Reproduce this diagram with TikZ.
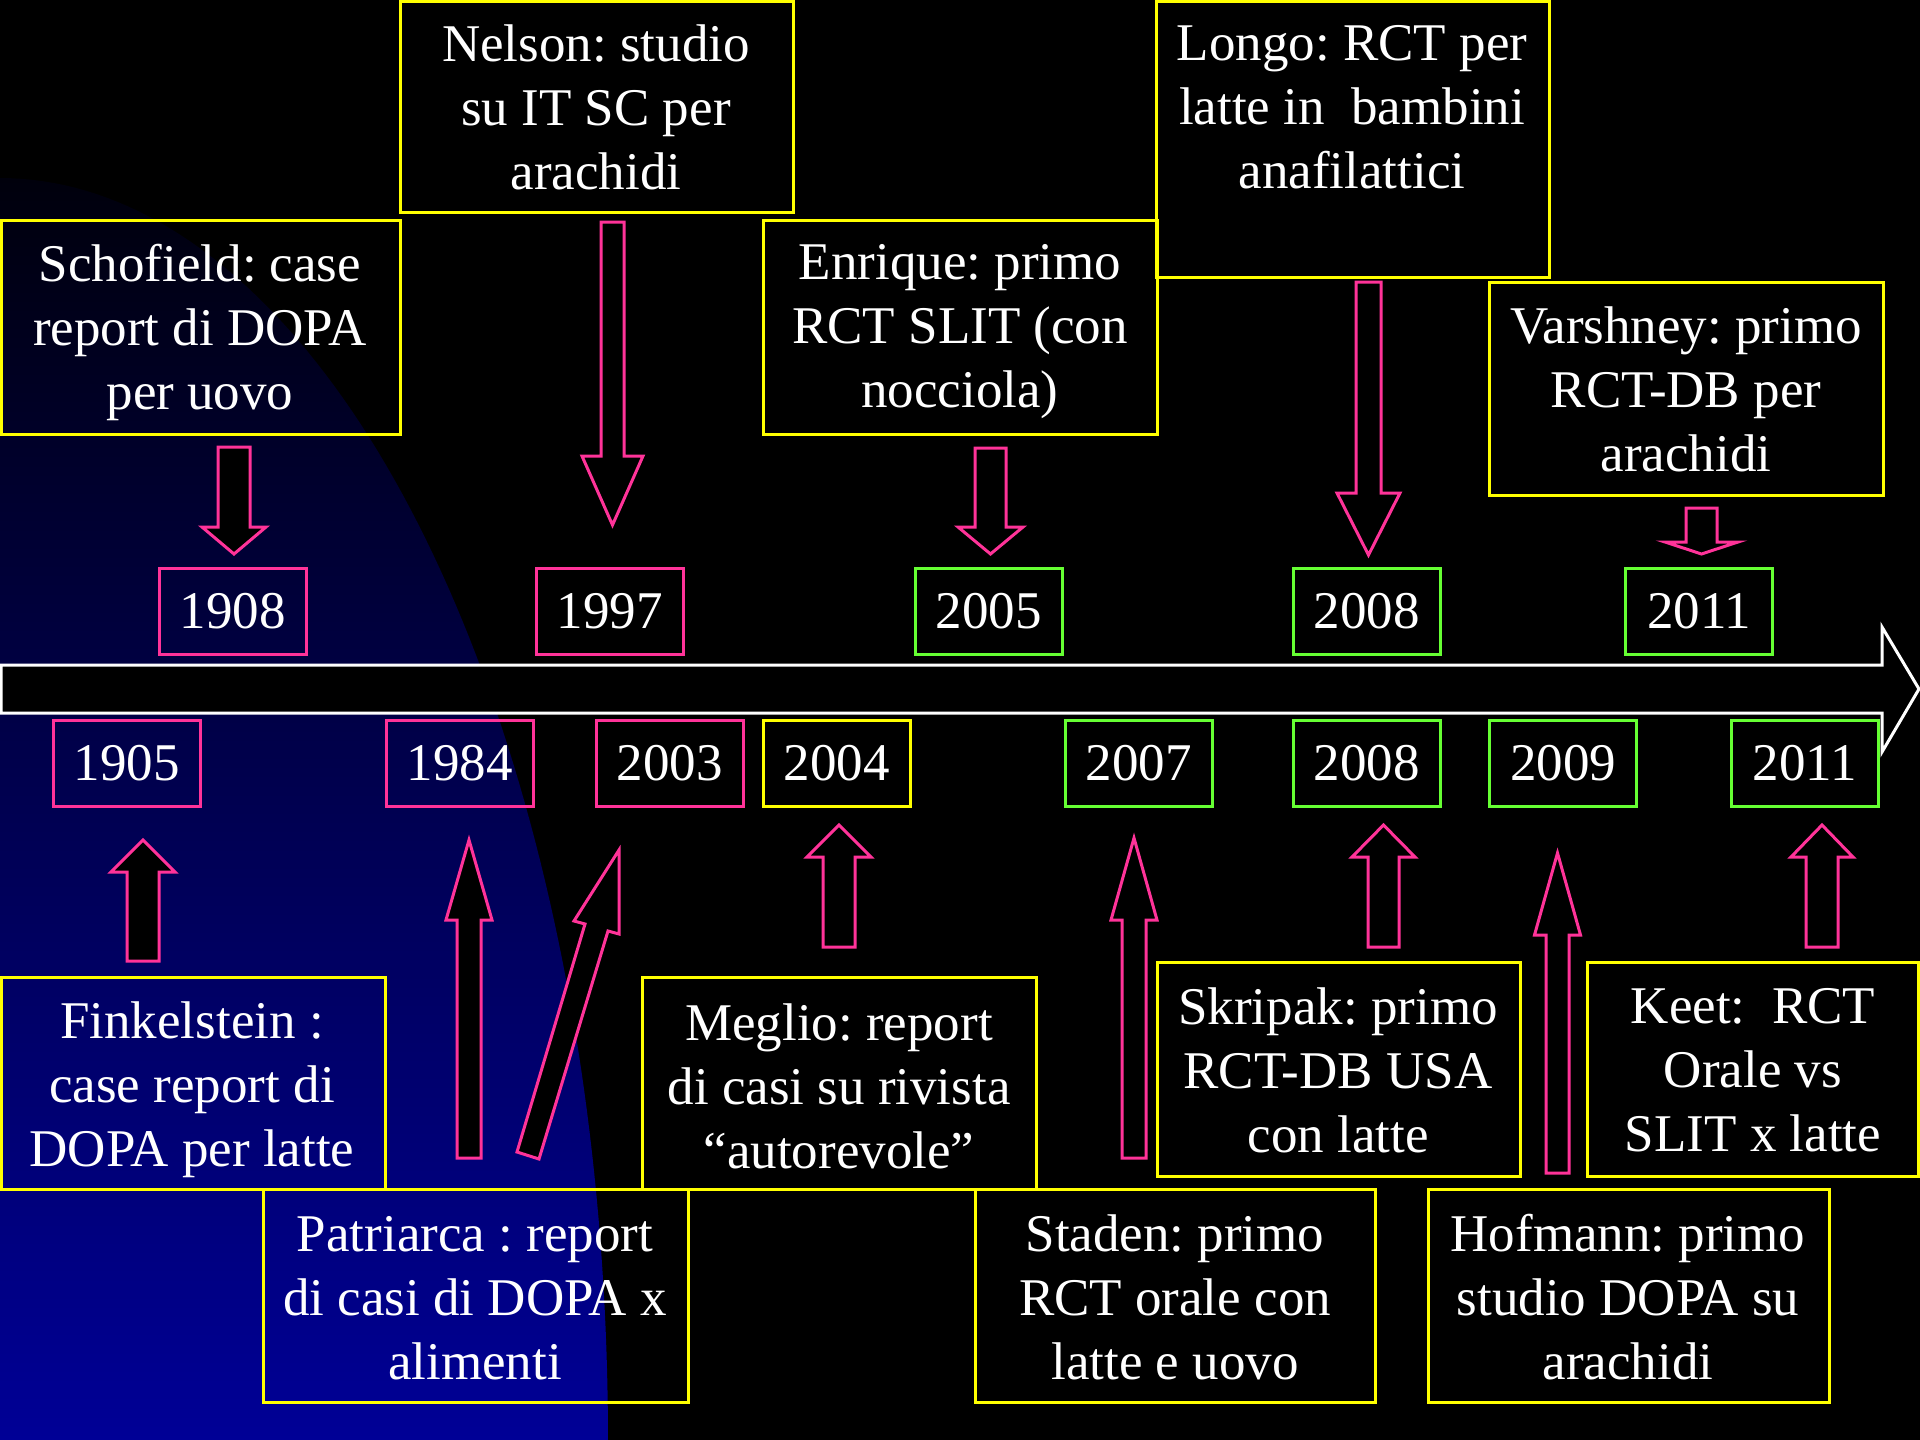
\documentclass[tikz,border=0pt]{standalone}
\usepackage{fontspec}
\setmainfont{Liberation Serif}
\frenchspacing
\definecolor{ppink}{RGB}{255,51,153}
\definecolor{pgreen}{RGB}{102,255,51}
\definecolor{pyellow}{RGB}{255,255,0}
\definecolor{bluetop}{RGB}{0,0,12}
\definecolor{bluemid}{RGB}{0,0,108}
\definecolor{bluebot}{RGB}{0,0,150}
\tikzset{
  yearbox/.style={draw, line width=3pt, minimum width=147pt, minimum height=86pt, inner sep=0pt, text=white, font=\fontsize{53}{64}\selectfont},
  tbox/.style={draw=pyellow, line width=3pt, inner sep=0pt},
  txt/.style={text=white, align=center, font=\fontsize{53}{64}\selectfont, inner sep=0pt},
  blk/.style={draw=ppink, line width=3pt, fill=black, line join=miter},
}
% block arrow: x centre, shaft half width, tail y, head base y, head half width, tip y
\newcommand\blockarr[6]{%
  \draw[blk] ({#1-#2},#3) -- ({#1+#2},#3) -- ({#1+#2},#4) -- ({#1+#5},#4) -- (#1,#6) -- ({#1-#5},#4) -- ({#1-#2},#4) -- cycle;}
\begin{document}
\begin{tikzpicture}[x=1pt,y=-1pt]
\useasboundingbox (0,0) rectangle (1920,1440);
\fill[black] (0,0) rectangle (1920,1440);
% blue quarter ellipse
\shade[top color=bluetop, middle color=bluemid, bottom color=bluebot]
  (0,1440) -- plot[domain=0:90, samples=90] ({608*sin(\x)}, {1440-1262*cos(\x)}) -- cycle;

% text boxes (top)
\node[tbox, minimum width=398.5pt, minimum height=214pt] (schofield) at (200.75,327) {};
\node[tbox, minimum width=393pt, minimum height=210.5pt] (nelson) at (596.5,106.75) {};
\node[tbox, minimum width=394pt, minimum height=214pt] (enrique) at (960,327) {};
\node[tbox, minimum width=393pt, minimum height=275.5pt] (longo) at (1352.5,139.25) {};
\node[tbox, minimum width=394pt, minimum height=213pt] (varshney) at (1686,388.5) {};
% text boxes (bottom)
\node[tbox, minimum width=383.5pt, minimum height=212pt] (finkelstein) at (193.25,1083) {};
\node[tbox, minimum width=425pt, minimum height=213pt] (patriarca) at (475.5,1295.5) {};
\node[tbox, minimum width=394pt, minimum height=212pt] (meglio) at (839,1083) {};
\node[tbox, minimum width=400pt, minimum height=213pt] (staden) at (1175,1295.5) {};
\node[tbox, minimum width=363pt, minimum height=214pt] (skripak) at (1338.5,1069) {};
\node[tbox, minimum width=401pt, minimum height=213pt] (hofmann) at (1628.5,1295.5) {};
\node[tbox, minimum width=331.5pt, minimum height=214pt] (keet) at (1752.75,1069) {};

% texts
\node[txt] (schofieldT) at (200,332) {Schofield: case\\report di DOPA\\per uovo};
\node[txt] (nelsonT) at (596,107) {Nelson: studio\\su IT SC per\\arachidi};
\node[txt] (enriqueT) at (960,332) {Enrique: primo\\RCT SLIT (con\\nocciola)};
\node[txt] (longoT) at (1352,107) {Longo: RCT per\\latte in\ \ bambini\\anafilattici};
\node[txt] (varshneyT) at (1686,389) {Varshney: primo\\RCT-DB per\\arachidi};
\node[txt] (finkelsteinT) at (192,1090) {Finkelstein :\\case report di\\DOPA per latte};
\node[txt] (patriarcaT) at (475,1298) {Patriarca : report\\di casi di DOPA x\\alimenti};
\node[txt] (meglioT) at (839,1086) {Meglio: report\\di casi su rivista\\“autorevole”};
\node[txt] (stadenT) at (1175,1297) {Staden: primo\\RCT orale con\\latte e uovo};
\node[txt] (skripakT) at (1338,1070) {Skripak: primo\\RCT-DB USA\\con latte};
\node[txt] (hofmannT) at (1628,1297) {Hofmann: primo\\studio DOPA su\\arachidi};
\node[txt] (keetT) at (1753,1070) {Keet:\ \ RCT\\Orale vs\\SLIT x latte};

% timeline arrow
\draw[draw=white, line width=3pt, fill=black, line join=miter]
  (1,665) -- (1882,665) -- (1882,627) -- (1919,689) -- (1882,752) -- (1882,713) -- (1,713) -- cycle;

% year boxes top
\node[yearbox, draw=ppink] (t1908) at (232.5,611) {1908};
\node[yearbox, draw=ppink] (t1997) at (609.5,611) {1997};
\node[yearbox, draw=pgreen] (t2005) at (988.5,611) {2005};
\node[yearbox, draw=pgreen] (t2008) at (1366.5,611) {2008};
\node[yearbox, draw=pgreen] (t2011) at (1699,611) {2011};
% year boxes bottom
\node[yearbox, draw=ppink] (b1905) at (126.5,763) {1905};
\node[yearbox, draw=ppink] (b1984) at (459.5,763) {1984};
\node[yearbox, draw=ppink] (b2003) at (669.5,763) {2003};
\node[yearbox, draw=pyellow] (b2004) at (836.5,763) {2004};
\node[yearbox, draw=pgreen] (b2007) at (1138.5,763) {2007};
\node[yearbox, draw=pgreen] (b2008) at (1366.5,763) {2008};
\node[yearbox, draw=pgreen] (b2009) at (1563,763) {2009};
\node[yearbox, draw=pgreen] (b2011) at (1804.5,763) {2011};

% block arrows top (down)
\blockarr{234}{16}{447}{527}{32}{554}
\blockarr{612.5}{11.5}{222}{456}{30.5}{525}
\blockarr{990.5}{15.5}{448}{527}{32.5}{554}
\blockarr{1368.5}{12.5}{282}{493}{31.5}{555}
\blockarr{1701.5}{15.5}{508}{542}{36.5}{554}
% block arrows bottom (up)
\blockarr{143}{16}{961}{872}{32}{840}
\blockarr{469}{12}{1158}{920}{23}{840}
\draw[blk] (517,1152) -- (585,924) -- (574,921) -- (619,850) -- (619,934) -- (608,931) -- (539,1159) -- cycle;
\blockarr{839}{16}{947}{857}{32}{825}
\blockarr{1134}{12}{1158}{920}{23}{838}
\blockarr{1383.5}{15.5}{947}{857}{31.5}{825}
\blockarr{1557.5}{11.5}{1173}{935}{23}{853}
\blockarr{1822}{16}{947}{857}{31}{825}
\end{tikzpicture}
\end{document}
